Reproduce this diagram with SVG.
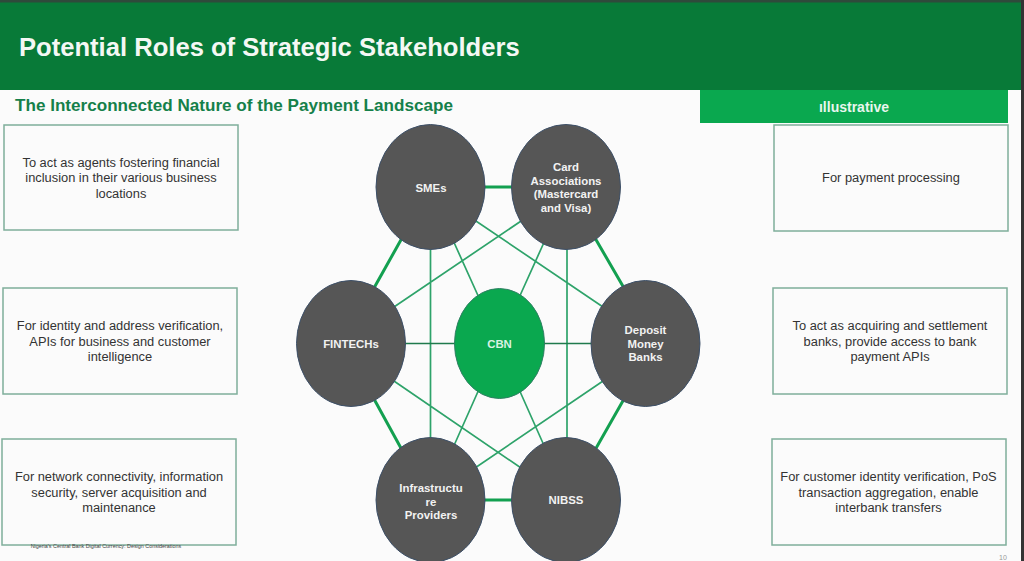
<svg xmlns="http://www.w3.org/2000/svg" width="1024" height="561" viewBox="0 0 1024 561">
<style>
text{font-family:"Liberation Sans",Arial,sans-serif;text-anchor:middle}
.box{fill:#fbfbfb;stroke:#7fae9b;stroke-width:1.5}
.bt{font-size:12.85px;fill:#333}
.node{fill:#565656;stroke:#3d5068;stroke-width:1}
.nt{font-size:11.4px;font-weight:bold;fill:#f2f2f2}
.thin{stroke:#2ea36a;stroke-width:1.7;fill:none}
.thick{stroke:#13a050;stroke-width:3;fill:none}
.dark{stroke:#1f7a4c;stroke-width:1.6;fill:none}
</style>
<rect width="1024" height="561" fill="#fbfbfb"/>
<rect id="header" x="0" y="0" width="1024" height="90" fill="#087a38"/>
<rect x="0" y="0" width="1024" height="2.5" fill="#2f4a3b"/>
<text x="19" y="56" style="text-anchor:start;font-size:25.6px;font-weight:bold;fill:#f4f8f4">Potential Roles of Strategic Stakeholders</text>
<text x="15" y="111" style="text-anchor:start;font-size:17.1px;font-weight:bold;fill:#15804a">The Interconnected Nature of the Payment Landscape</text>
<g id="illustrative"><rect x="700" y="90" width="308" height="33" fill="#0aa84f"/><text x="854" y="112" style="font-size:14px;font-weight:bold;fill:#e8f6ee">ıllustrative</text></g>
<rect x="1021" y="0" width="3" height="561" fill="#333"/>
<g id="connectors">
<path class="thick" d="M480 187H516M480 500H516M402 238L374 288M595 238L624 288M374 399L402 450M624 399L595 450"/>
<path class="thin" d="M430.500 245V442M567 245V442M470 217L606 309M527 217L391 309M391 379L524 470M606 379L472 470M452 238L480 300M546 238L518 300M480 387L452 450M518 387L546 450"/>
<path class="dark" d="M400 343.500H460M540 343.500H596"/>
</g>
<g id="cbn"><ellipse cx="499.500" cy="343.500" rx="45" ry="55" fill="#0aa84f" stroke="#2f7f63"/><text class="nt" x="499.500" y="348" style="fill:#d8f2e2">CBN</text></g>
<g id="smes"><ellipse class="node" cx="430.500" cy="187" rx="54.500" ry="62.500"/><text class="nt" x="431" y="192">SMEs</text></g>
<g id="card"><ellipse class="node" cx="566" cy="187" rx="54.500" ry="62.500"/><text class="nt" x="566" y="171">Card</text><text class="nt" x="566" y="185">Associations</text><text class="nt" x="566" y="198">(Mastercard</text><text class="nt" x="566" y="212">and Visa)</text></g>
<g id="fintechs"><ellipse class="node" cx="351" cy="343.500" rx="54.500" ry="63"/><text class="nt" x="351" y="348">FINTECHs</text></g>
<g id="dmb"><ellipse class="node" cx="645.500" cy="343.500" rx="54.500" ry="63"/><text class="nt" x="645.500" y="334">Deposit</text><text class="nt" x="645.500" y="348">Money</text><text class="nt" x="645.500" y="361">Banks</text></g>
<g id="infra"><ellipse class="node" cx="430.500" cy="500" rx="54.500" ry="62.500"/><text class="nt" x="431" y="492">Infrastructu</text><text class="nt" x="431" y="506">re</text><text class="nt" x="431" y="519">Providers</text></g>
<g id="nibss"><ellipse class="node" cx="566" cy="500" rx="54.500" ry="62.500"/><text class="nt" x="566" y="504">NIBSS</text></g>
<g id="b1"><rect class="box" x="4" y="125" width="234" height="105"/><text class="bt" x="121" y="167">To act as agents fostering financial</text><text class="bt" x="121" y="182">inclusion in their various business</text><text class="bt" x="121" y="198">locations</text></g>
<g id="b2"><rect class="box" x="3" y="288" width="234" height="106"/><text class="bt" x="120" y="330">For identity and address verification,</text><text class="bt" x="120" y="346">APIs for business and customer</text><text class="bt" x="120" y="361">intelligence</text></g>
<g id="b3"><rect class="box" x="2" y="439" width="234" height="106"/><text class="bt" x="119" y="481">For network connectivity, information</text><text class="bt" x="119" y="497">security, server acquisition and</text><text class="bt" x="119" y="512">maintenance</text></g>
<g id="b4"><rect class="box" x="774" y="125" width="234" height="106"/><text class="bt" x="891" y="182">For payment processing</text></g>
<g id="b5"><rect class="box" x="773" y="288" width="234" height="106"/><text class="bt" x="890" y="330">To act as acquiring and settlement</text><text class="bt" x="890" y="346">banks, provide access to bank</text><text class="bt" x="890" y="361">payment APIs</text></g>
<g id="b6"><rect class="box" x="772" y="439" width="234" height="106"/><text class="bt" x="888.500" y="481">For customer identity verification, PoS</text><text class="bt" x="888.500" y="497">transaction aggregation, enable</text><text class="bt" x="888.500" y="512">interbank transfers</text></g>
<text x="106" y="547.500" style="font-size:5.400px;fill:#444">Nigeria's Central Bank Digital Currency: Design Considerations</text>
<text x="1003" y="560" style="font-size:7px;fill:#999">10</text>
</svg>
